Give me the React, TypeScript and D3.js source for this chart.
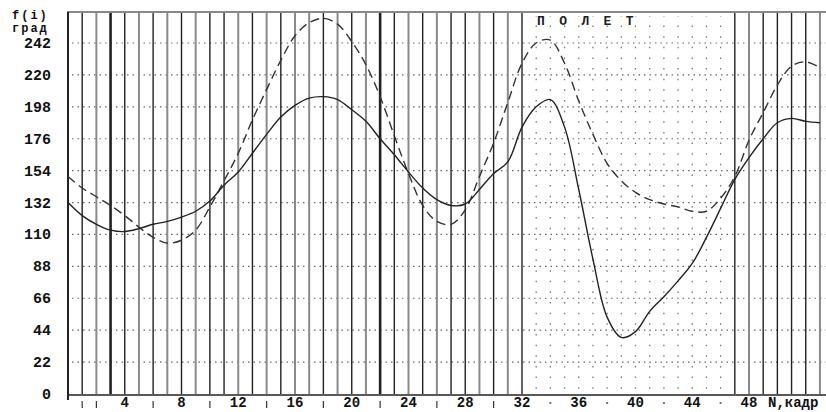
import React, { useEffect, useRef } from 'react';
import * as d3 from 'd3';

// frame numbers (N, кадр) 0..53
const frames = [
  0, 1, 2, 3, 4, 5, 6, 7, 8, 9, 10, 11, 12, 13, 14, 15, 16, 17, 18, 19, 20, 21, 22, 23, 24, 25, 26,
  27, 28, 29, 30, 31, 32, 33, 34, 35, 36, 37, 38, 39, 40, 41, 42, 43, 44, 45, 46, 47, 48, 49, 50,
  51, 52, 53,
];

// solid curve f(i), град
const solidValues = [
  132, 123, 117, 113, 112, 114, 117, 119, 122, 126, 133, 144, 153, 166, 179, 191, 199, 204, 205,
  203, 196, 188, 176, 165, 153, 142, 134, 130, 131, 141, 152, 160, 184, 198, 203, 184, 141, 93, 53,
  39, 43, 57, 67, 78, 90, 108, 128, 148, 163, 176, 187, 190, 188, 187,
];

// dashed curve
const dashedValues = [
  150, 142, 136, 130, 123, 115, 108, 104, 106, 113, 129, 147, 166, 189, 210, 230, 247, 256, 259,
  255, 243, 227, 205, 178, 152, 130, 119, 117, 127, 150, 173, 201, 228, 242, 244, 228, 202, 179,
  159, 147, 139, 134, 131, 129, 126, 126, 135, 150, 175, 194, 213, 226, 229, 225,
];

const yTicks = [0, 22, 44, 66, 88, 110, 132, 154, 176, 198, 220, 242];
const xLabels = [4, 8, 12, 16, 20, 24, 28, 32, 36, 40, 44, 48];
const minorTicks = [1, 2, 6, 10, 14, 18, 22, 26, 30];
const dotTicks = [34, 38, 42, 46];

// vertical frame lines
const lineFrames = [
  1, 2, 3, 4, 5, 6, 7, 8, 9, 10, 11, 12, 13, 14, 15, 16, 17, 18, 19, 20, 21, 22, 23, 24, 25, 26, 27,
  28, 29, 30, 31, 32, 47, 48, 49, 50, 51, 52, 53,
];
const grayFrames = [2, 5, 7, 9, 12, 14, 16, 17, 19, 21, 24, 26, 29, 31, 48, 53];
const thickFrames = [3, 22];
// "полет" dotted zone
const flightFrames = [33, 34, 35, 36, 37, 38, 39, 40, 41, 42, 43, 44, 45, 46];

const W = 826;
const H = 412;
const FONT = '"Liberation Mono", "DejaVu Sans Mono", monospace';

const App = () => {
  const svgRef = useRef<SVGSVGElement>(null);

  useEffect(() => {
    const svg = d3.select(svgRef.current);
    svg.selectAll('*').remove();

    const top = 12;
    const bottom = 394;
    const x = d3.scaleLinear().domain([0, 48]).range([68, 749]);
    const y = d3.scaleLinear().domain([0, 242]).range([bottom, 43]);

    svg.append('rect').attr('width', W).attr('height', H).attr('fill', '#fff');

    // horizontal dotted grid
    svg
      .selectAll('.hgrid')
      .data(yTicks.filter((d) => d > 0))
      .join('line')
      .attr('x1', 72)
      .attr('x2', W)
      .attr('y1', (d) => y(d))
      .attr('y2', (d) => y(d))
      .attr('stroke', '#666')
      .attr('stroke-width', 1.2)
      .attr('stroke-dasharray', '1.5 4');

    // flight zone dots
    const dotStep = (y(0) - y(22)) / 3;
    svg
      .selectAll('.fgrid')
      .data(flightFrames)
      .join('line')
      .attr('x1', (d) => x(d))
      .attr('x2', (d) => x(d))
      .attr('y1', y(0) - dotStep / 2)
      .attr('y2', top + 4)
      .attr('stroke', '#777')
      .attr('stroke-width', 1.3)
      .attr('stroke-dasharray', `1.5 ${dotStep - 1.5}`);

    // vertical frame lines
    svg
      .selectAll('.vline')
      .data(lineFrames)
      .join('line')
      .attr('x1', (d) => x(d))
      .attr('x2', (d) => x(d))
      .attr('y1', top)
      .attr('y2', bottom)
      .attr('stroke', (d) => (grayFrames.includes(d) ? '#8a8a8a' : '#222'))
      .attr('stroke-width', (d) => (thickFrames.includes(d) ? 2.6 : grayFrames.includes(d) ? 2 : 1.4));

    // frame
    svg.append('line').attr('x1', 67).attr('x2', W).attr('y1', top).attr('y2', top)
      .attr('stroke', '#888').attr('stroke-width', 2);
    svg.append('line').attr('x1', 67).attr('x2', W).attr('y1', bottom + 1).attr('y2', bottom + 1)
      .attr('stroke', '#222').attr('stroke-width', 1.6);
    svg.append('line').attr('x1', x(0)).attr('x2', x(0)).attr('y1', top).attr('y2', bottom + 6)
      .attr('stroke', '#222').attr('stroke-width', 2);

    // curves
    const line = d3
      .line<number>()
      .x((_, i) => x(frames[i]))
      .y((d) => y(d))
      .curve(d3.curveCatmullRom.alpha(0.5));

    svg.append('path').attr('d', line(dashedValues)).attr('fill', 'none')
      .attr('stroke', '#333').attr('stroke-width', 1.4).attr('stroke-dasharray', '9 5');
    svg.append('path').attr('d', line(solidValues)).attr('fill', 'none')
      .attr('stroke', '#222').attr('stroke-width', 1.4);

    // y labels
    svg
      .selectAll('.ylab')
      .data(yTicks)
      .join('text')
      .attr('x', 51)
      .attr('y', (d) => y(d) + 5)
      .attr('text-anchor', 'end')
      .attr('font-family', FONT)
      .attr('font-weight', 'bold')
      .attr('font-size', 15)
      .attr('fill', '#111')
      .text((d) => d);

    // x labels
    svg
      .selectAll('.xlab')
      .data(xLabels)
      .join('text')
      .attr('x', (d) => x(d))
      .attr('y', 407)
      .attr('text-anchor', 'middle')
      .attr('font-family', FONT)
      .attr('font-weight', 'bold')
      .attr('font-size', 14)
      .attr('fill', '#111')
      .text((d) => d);

    svg
      .selectAll('.mtick')
      .data(minorTicks)
      .join('line')
      .attr('x1', (d) => x(d))
      .attr('x2', (d) => x(d))
      .attr('y1', 401)
      .attr('y2', 408)
      .attr('stroke', '#333')
      .attr('stroke-width', 1.2);

    svg
      .selectAll('.dtick')
      .data(dotTicks)
      .join('rect')
      .attr('x', (d) => x(d) - 1)
      .attr('y', 402)
      .attr('width', 2)
      .attr('height', 2)
      .attr('fill', '#777');

    svg.append('text').attr('x', 768).attr('y', 407).attr('font-family', FONT)
      .attr('font-weight', 'bold').attr('font-size', 14).attr('fill', '#111').text('N,кадр');

    svg.append('text').attr('x', 12).attr('y', 19).attr('font-family', FONT)
      .attr('font-weight', 'bold').attr('font-size', 12).attr('letter-spacing', 2).attr('fill', '#111')
      .text('f(i)');
    svg.append('text').attr('x', 12).attr('y', 32).attr('font-family', FONT)
      .attr('font-weight', 'bold').attr('font-size', 12).attr('letter-spacing', 2).attr('fill', '#111')
      .text('град');

    svg.append('text').attr('x', 537).attr('y', 25).attr('font-family', FONT)
      .attr('font-weight', 'bold').attr('font-size', 13).attr('letter-spacing', 3.3).attr('fill', '#222')
      .text('П О Л Е Т');
  }, []);

  return (
    <svg
      ref={svgRef}
      width={W}
      height={H}
      style={{ position: 'absolute', left: 0, top: 0, display: 'block' }}
    />
  );
};

export default App;
